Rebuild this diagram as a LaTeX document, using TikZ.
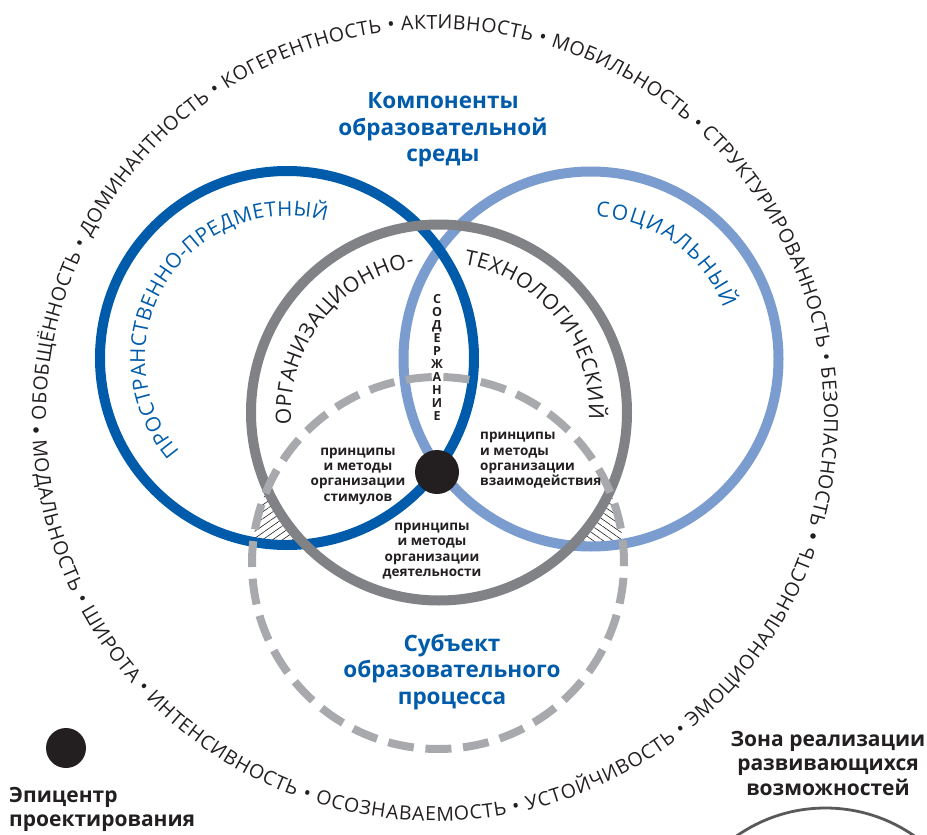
\documentclass[tikz,border=0pt]{standalone}
\usepackage{fontspec}
\setmainfont{Open Sans}
\newfontfamily\ringfont{Open Sans}
\usetikzlibrary{decorations.text,patterns.meta,calc}
\definecolor{dblue}{HTML}{005BAA}
\definecolor{lblue}{HTML}{7A9CCF}
\definecolor{cgray}{HTML}{808285}
\definecolor{dgray}{HTML}{A7A9AC}
\definecolor{ink}{HTML}{231F20}
\definecolor{arcgray}{HTML}{58595B}
\tikzset{
  ring/.style={line width=10pt},
  hatchL/.style={pattern={Lines[angle=35,distance=5.7pt,line width=0.6pt]},pattern color=ink},
  hatchR/.style={pattern={Lines[angle=-35,distance=5.7pt,line width=0.6pt]},pattern color=ink},
  bluehead/.style={text=dblue,font=\bfseries\fontsize{22.5}{26.5}\selectfont,align=center,inner sep=0pt},
  smalltxt/.style={text=ink,font=\bfseries\fontsize{13.5}{15.3}\selectfont,inner sep=0pt},
  darkhead/.style={text=ink,font=\bfseries\fontsize{21}{24.5}\selectfont,inner sep=0pt},
  sep/.style={circle,fill=ink,inner sep=0pt,minimum size=5.6pt},
}
\begin{document}
\begin{tikzpicture}[x=1pt,y=1pt]
\useasboundingbox (0,0) rectangle (927,-835);
\coordinate (cB) at (287,-358);
\coordinate (cL) at (591,-359);
\coordinate (cG) at (439,-412.5);
\coordinate (cD) at (438,-563);
\coordinate (cR) at (435,-418);

% hatched slivers
\begin{scope}
  \clip (cB) circle[radius=187];
  \clip (cD) circle[radius=186];
  \fill[hatchL] (cB) circle[radius=187];
\end{scope}
\begin{scope}
  \clip (cL) circle[radius=187.5];
  \clip (cD) circle[radius=186];
  \fill[hatchR] (cL) circle[radius=187.5];
\end{scope}
\fill[white] (cG) circle[radius=188];

% rings
\draw[ring,lblue] (cL) circle[radius=187.5];
\draw[ring,dblue] (cB) circle[radius=187];
\draw[ring,cgray] (cG) circle[radius=188];
\draw[line width=8pt,dgray,dash pattern=on 26pt off 11.7pt,dash phase=3.1pt] (cD) circle[radius=186];

\node[circle,fill=ink,inner sep=0pt,minimum size=44pt] (core) at (437,-472) {};

% curved labels
\path[shift={(cB)},decorate,decoration={text along path,text align={fit to path},
  text={|\fontsize{20.5}{20.5}\selectfont\color{dblue}|ПРОСТРАНСТВЕННО-ПРЕДМЕТНЫЙ}}]
  (221:142) arc[start angle=221,end angle=74,radius=142];
\path[shift={(cL)},decorate,decoration={text along path,text align={fit to path},
  text={|\fontsize{21}{21}\selectfont\color{dblue}|СОЦИАЛЬНЫЙ}}]
  (88:142) arc[start angle=88,end angle=21,radius=142];
\path[shift={(cG)},decorate,decoration={text along path,text align={fit to path},
  text={|\fontsize{21}{21}\selectfont\color{ink}|ОРГАНИЗАЦИОННО-}}]
  (184.5:148) arc[start angle=184.5,end angle=99.5,radius=148];
\path[shift={(cG)},decorate,decoration={text along path,text align={fit to path},
  text={|\fontsize{21}{21}\selectfont\color{ink}|ТЕХНОЛОГИЧЕСКИЙ}}]
  (80.5:150) arc[start angle=80.5,end angle=-2.5,radius=150];

% outer ring of words
\path[shift={(cR)},decorate,decoration={text along path,text align={fit to path},
  text={|\ringfont\fontsize{19.5}{19.5}\selectfont\color{ink}|ОБОБЩЁННОСТЬ • ДОМИНАНТНОСТЬ • КОГЕРЕНТНОСТЬ • АКТИВНОСТЬ • МОБИЛЬНОСТЬ • СТРУКТУРИРОВАННОСТЬ • БЕЗОПАСНОСТЬ}}]
  (180.3:389) arc[start angle=180.3,end angle=-15.9,radius=389];
\path[shift={(cR)},decorate,decoration={text along path,text align={fit to path},
  text={|\ringfont\fontsize{19.5}{19.5}\selectfont\color{ink}|МОДАЛЬНОСТЬ • ШИРОТА • ИНТЕНСИВНОСТЬ • ОСОЗНАВАЕМОСТЬ • УСТОЙЧИВОСТЬ • ЭМОЦИОНАЛЬНОСТЬ}}]
  (183.2:403) arc[start angle=183.2,end angle=340.8,radius=403];
\node[sep] (j1) at (36,-430) {};
\node[sep] (j2) at (813,-536) {};

% texts
\node[bluehead] (komp) at (443,-130) {Компоненты\\образовательной\\среды};
\node[bluehead] (subj) at (452,-672) {Субъект\\образовательного\\процесса};
\node[smalltxt,align=center] (stim) at (358,-476) {принципы\\и методы\\организации\\стимулов};
\node[smalltxt,align=left,anchor=west] (vzai) at (480,-460.5) {принципы\\и методы\\организации\\взаимодействия};
\node[smalltxt,align=center] (deyat) at (432,-551) {принципы\\и методы\\организации\\деятельности};
\node[text=ink,font=\bfseries\fontsize{12.5}{12.9}\selectfont,align=center,inner sep=0pt] (soder) at (437,-357.5) {С\\О\\Д\\Е\\Р\\Ж\\А\\Н\\И\\Е};

\node[circle,fill=ink,inner sep=0pt,minimum size=40pt] (epi) at (66,-748) {};
\node[darkhead,align=left,anchor=north west] (epitxt) at (9,-787) {Эпицентр\\проектирования};
\node[darkhead,align=center] (zona) at (828,-763) {Зона реализации\\развивающихся\\возможностей};
\draw[arcgray,line width=2.8pt] (825.5,-963) circle[radius=155];
\end{tikzpicture}
\end{document}
